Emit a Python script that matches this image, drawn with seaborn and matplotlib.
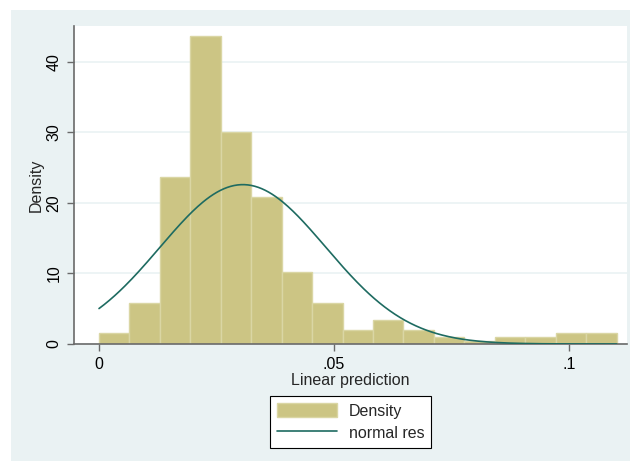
import numpy as np
import pandas as pd
import matplotlib
matplotlib.use('Agg')
import matplotlib.pyplot as plt
from matplotlib.patches import Rectangle, Patch
from matplotlib.lines import Line2D
import seaborn as sns

# --- data ---
bin_start = 0.0
bin_width = 0.006476
density = [1.5, 5.8, 23.7, 43.7, 30.0, 20.8, 10.2, 5.8, 2.0, 3.4,
           2.0, 0.95, 0.47, 0.95, 0.95, 1.56, 1.56]
# normal overlay parameters (mean / sd of the prediction)
norm_mean = 0.0306
norm_sd = 0.01765
x_ticks = [0, 0.05, 0.1]
x_ticklabels = ["0", ".05", ".1"]
y_ticks = [0, 10, 20, 30, 40]

sns.set_theme(style="white")
plt.rcParams['font.family'] = ['Liberation Sans', 'DejaVu Sans']

BAR_FILL = '#CCC584'
BAR_EDGE = '#DAD6A4'
CURVE = '#1E6B61'
PANEL = '#EAF2F3'
FS = 11.5

edges = [bin_start + bin_width * i for i in range(len(density) + 1)]
centers = [(a + b) / 2 for a, b in zip(edges[:-1], edges[1:])]
df = pd.DataFrame({'x': centers, 'dens': density})

fig = plt.figure(figsize=(6.3, 4.61), dpi=100, facecolor='white')
# Stata-style light background panel
fig.patches.append(Rectangle((11 / 630, 0), 1, 1 - 10 / 461, transform=fig.transFigure,
                             facecolor=PANEL, edgecolor='none', zorder=-10))

ax = fig.add_axes([74 / 630, (461 - 344) / 461, (627 - 74) / 630, (344 - 26) / 461])
ax.set_facecolor('white')

sns.histplot(data=df, x='x', weights='dens', bins=edges, stat='count', ax=ax,
             color=BAR_FILL, edgecolor=BAR_EDGE, linewidth=1, alpha=1, zorder=2)

xs = np.linspace(bin_start, edges[-1], 300)
pdf = np.exp(-0.5 * ((xs - norm_mean) / norm_sd) ** 2) / (norm_sd * np.sqrt(2 * np.pi))
sns.lineplot(x=xs, y=pdf, ax=ax, color=CURVE, linewidth=1.2, zorder=3)

ax.set_xlim(-0.00532, 0.1123)
ax.set_ylim(0, 45.1)
ax.set_xticks(x_ticks)
ax.set_xticklabels(x_ticklabels)
ax.set_yticks(y_ticks)
ax.set_yticklabels([str(v) for v in y_ticks], rotation=90, va='center')
ax.yaxis.grid(True, color=PANEL, linewidth=1.2, zorder=0)
ax.set_axisbelow(True)

for s in ['top', 'right']:
    ax.spines[s].set_visible(False)
for s in ['left', 'bottom']:
    ax.spines[s].set_color('#6A6A6A')
    ax.spines[s].set_linewidth(1.2)
ax.tick_params(axis='both', direction='out', length=5, width=1, color='#6A6A6A',
               labelsize=FS, labelcolor='black', pad=4, left=True, bottom=True)

ax.set_xlabel("Linear prediction", fontsize=FS, labelpad=1)
ax.set_ylabel("Density", fontsize=FS, labelpad=2)

handles = [Patch(facecolor=BAR_FILL, edgecolor=BAR_EDGE),
           Line2D([0], [0], color=CURVE, linewidth=1.2)]
leg = fig.legend(handles, ["Density", "normal res"], loc='upper center',
                 bbox_to_anchor=(350.5 / 630, 1 - 395.7 / 461), fontsize=FS,
                 frameon=True, fancybox=False, edgecolor='black', facecolor='white',
                 framealpha=1, handlelength=3.8, handleheight=1.0, borderpad=0.45,
                 labelspacing=0.4, handletextpad=0.7, borderaxespad=0)
leg.get_frame().set_linewidth(0.8)

fig.savefig('out.png', dpi=100, facecolor='white')
